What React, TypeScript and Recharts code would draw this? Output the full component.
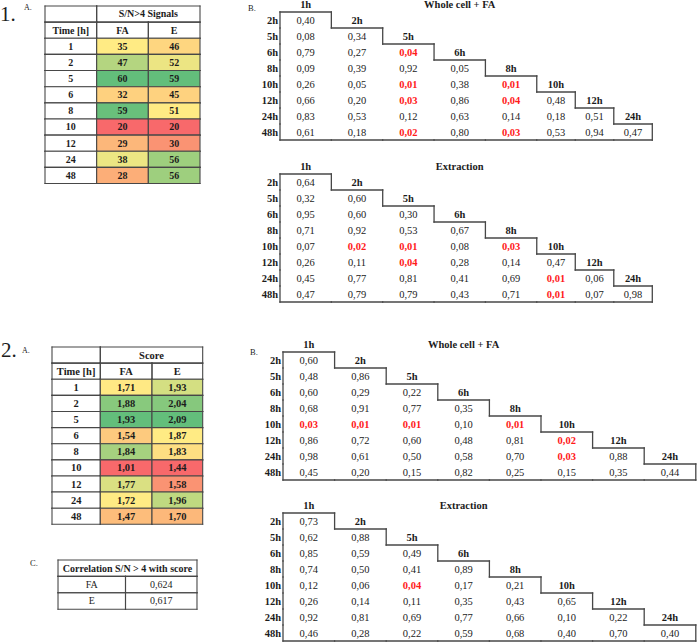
import React from 'react';
import { ScatterChart, Scatter, XAxis, YAxis } from 'recharts';

// ---------- DATA ----------
const timePoints = ['1', '2', '5', '6', '8', '10', '12', '24', '48'];
const signalsFA = [35, 47, 60, 32, 59, 20, 29, 38, 28];
const signalsE = [46, 52, 59, 45, 51, 20, 30, 56, 56];
const scoreFA = [1.71, 1.88, 1.93, 1.54, 1.84, 1.01, 1.77, 1.72, 1.47];
const scoreE = [1.93, 2.04, 2.09, 1.87, 1.83, 1.44, 1.58, 1.96, 1.70];
const corrLabels = ['FA', 'E'];
const corrValues = [0.624, 0.617];
const matrixTimes = ['1h', '2h', '5h', '6h', '8h', '10h', '12h', '24h', '48h'];

const p1WholeCell: number[][] = [
  [0.40],
  [0.08, 0.34],
  [0.79, 0.27, 0.04],
  [0.09, 0.39, 0.92, 0.05],
  [0.26, 0.05, 0.01, 0.38, 0.01],
  [0.66, 0.20, 0.03, 0.86, 0.04, 0.48],
  [0.83, 0.53, 0.12, 0.63, 0.14, 0.18, 0.51],
  [0.61, 0.18, 0.02, 0.80, 0.03, 0.53, 0.94, 0.47],
];
const p1Extraction: number[][] = [
  [0.64],
  [0.32, 0.60],
  [0.95, 0.60, 0.30],
  [0.71, 0.92, 0.53, 0.67],
  [0.07, 0.02, 0.01, 0.08, 0.03],
  [0.26, 0.11, 0.04, 0.28, 0.14, 0.47],
  [0.45, 0.77, 0.81, 0.41, 0.69, 0.01, 0.06],
  [0.47, 0.79, 0.79, 0.43, 0.71, 0.01, 0.07, 0.98],
];
const p2WholeCell: number[][] = [
  [0.60],
  [0.48, 0.86],
  [0.60, 0.29, 0.22],
  [0.68, 0.91, 0.77, 0.35],
  [0.03, 0.01, 0.01, 0.10, 0.01],
  [0.86, 0.72, 0.60, 0.48, 0.81, 0.02],
  [0.98, 0.61, 0.50, 0.58, 0.70, 0.03, 0.88],
  [0.45, 0.20, 0.15, 0.82, 0.25, 0.15, 0.35, 0.44],
];
const p2Extraction: number[][] = [
  [0.73],
  [0.62, 0.88],
  [0.85, 0.59, 0.49],
  [0.74, 0.50, 0.41, 0.89],
  [0.12, 0.06, 0.04, 0.17, 0.21],
  [0.26, 0.14, 0.11, 0.35, 0.43, 0.65],
  [0.92, 0.81, 0.69, 0.77, 0.66, 0.10, 0.22],
  [0.46, 0.28, 0.22, 0.59, 0.68, 0.40, 0.70, 0.40],
];

// ---------- STYLE HELPERS ----------
const FONT = 'Liberation Serif, Tinos, Times New Roman, DejaVu Serif, serif';
const INK = '#1c1c1c';
const LINE = '#474747';
const SIG = '#ff1a1a';

const comma = (v: number, d: number) => v.toFixed(d).replace('.', ',');

function median(arr: number[]) {
  const s = [...arr].sort((a, b) => a - b);
  const m = Math.floor(s.length / 2);
  return s.length % 2 ? s[m] : (s[m - 1] + s[m]) / 2;
}
function mix(a: number[], b: number[], t: number) {
  const c = a.map((v, i) => Math.round(v + (b[i] - v) * t));
  return `rgb(${c[0]},${c[1]},${c[2]})`;
}
function heat(values: number[]) {
  const red = [248, 105, 107], yel = [255, 235, 132], grn = [99, 190, 123];
  const mn = Math.min(...values), mx = Math.max(...values), md = median(values);
  return values.map((v) =>
    v <= md ? mix(red, yel, md === mn ? 1 : (v - mn) / (md - mn)) : mix(yel, grn, (v - md) / (mx - md))
  );
}

type Datum = {
  x: number; y: number; w: number; h: number;
  text?: string; fill?: string; color?: string; bold?: boolean;
  anchor?: 'start' | 'middle' | 'end'; edges?: string;
};

function makeShape(ux: number, uy: number, fontSize: number, strokeW: number) {
  return (props: any) => {
    const { cx, cy, payload } = props;
    if (cx == null || cy == null || !payload) return <g />;
    const d: Datum = payload;
    const w = d.w * ux, h = d.h * uy;
    const x0 = cx - w / 2, y0 = cy - h / 2;
    const e = d.edges || '';
    const ln = (x1: number, y1: number, x2: number, y2: number, k: string) => (
      <line key={k} x1={x1} y1={y1} x2={x2} y2={y2} stroke={LINE} strokeWidth={strokeW} strokeLinecap="square" />
    );
    const anchor = d.anchor || 'middle';
    const tx = anchor === 'end' ? x0 + w - 2 : anchor === 'start' ? x0 + 2 : cx;
    return (
      <g>
        {d.fill && <rect x={x0} y={y0} width={w} height={h} fill={d.fill} />}
        {e.includes('t') && ln(x0, y0, x0 + w, y0, 't')}
        {e.includes('b') && ln(x0, y0 + h, x0 + w, y0 + h, 'b')}
        {e.includes('l') && ln(x0, y0, x0, y0 + h, 'l')}
        {e.includes('r') && ln(x0 + w, y0, x0 + w, y0 + h, 'r')}
        {d.text && (
          <text x={tx} y={cy} dy="0.34em" textAnchor={anchor}
            style={{ fontFamily: FONT, fontSize, fontWeight: d.bold ? 700 : 400 }} fill={d.color || INK}>
            {d.text}
          </text>
        )}
      </g>
    );
  };
}

type GridProps = {
  left: number; top: number; unitsX: number; yMin: number; unitsY: number;
  ux: number; uy: number; data: Datum[]; fontSize: number; strokeW?: number; padLeft?: number;
};

function Grid({ left, top, unitsX, yMin, unitsY, ux, uy, data, fontSize, strokeW = 1, padLeft = 3 }: GridProps) {
  const margin = { top: 3, right: 3, bottom: 3, left: padLeft };
  const width = unitsX * ux + margin.left + margin.right;
  const height = unitsY * uy + margin.top + margin.bottom;
  return (
    <div style={{ position: 'absolute', left: left - margin.left, top: top - margin.top }}>
      <ScatterChart width={width} height={height} margin={margin}>
        <XAxis type="number" dataKey="x" domain={[0, unitsX]} hide />
        <YAxis type="number" dataKey="y" domain={[yMin, yMin + unitsY]} reversed hide />
        <Scatter data={data} isAnimationActive={false} shape={makeShape(ux, uy, fontSize, strokeW)} />
      </ScatterChart>
    </div>
  );
}

function colLayout(units: number[]) {
  const starts: number[] = [];
  let acc = 0;
  units.forEach((u) => { starts.push(acc); acc += u; });
  return { starts, centers: units.map((u, i) => starts[i] + u / 2), total: acc };
}

// heat table (panels 1A / 2A)
function HeatTable({ left, top, colUnits, ux, uy, title, fa, e, fmt, fontSize }: {
  left: number; top: number; colUnits: number[]; ux: number; uy: number; title: string;
  fa: number[]; e: number[]; fmt: (v: number) => string; fontSize: number;
}) {
  const L = colLayout(colUnits);
  const faFill = heat(fa), eFill = heat(e);
  const data: Datum[] = [];
  const box = 'tblr';
  data.push({ x: L.centers[0], y: 0.5, w: colUnits[0], h: 1, edges: box });
  data.push({ x: L.starts[1] + (colUnits[1] + colUnits[2]) / 2, y: 0.5, w: colUnits[1] + colUnits[2], h: 1, text: title, bold: true, edges: box });
  ['Time [h]', 'FA', 'E'].forEach((t, c) => data.push({ x: L.centers[c], y: 1.5, w: colUnits[c], h: 1, text: t, bold: true, edges: box }));
  timePoints.forEach((t, r) => {
    data.push({ x: L.centers[0], y: r + 2.5, w: colUnits[0], h: 1, text: t, bold: true, edges: box, fill: '#fff' });
    data.push({ x: L.centers[1], y: r + 2.5, w: colUnits[1], h: 1, text: fmt(fa[r]), bold: true, edges: box, fill: faFill[r] });
    data.push({ x: L.centers[2], y: r + 2.5, w: colUnits[2], h: 1, text: fmt(e[r]), bold: true, edges: box, fill: eFill[r] });
  });
  return <Grid left={left} top={top} unitsX={L.total} yMin={0} unitsY={timePoints.length + 2} ux={ux} uy={uy} data={data} fontSize={fontSize} strokeW={1.1} />;
}

// triangular p-value matrix (panels 1B / 2B)
function Matrix({ left, top, colUnits, ux, title, values }: {
  left: number; top: number; colUnits: number[]; ux: number; title: string; values: number[][];
}) {
  const L = colLayout(colUnits);
  const n = values.length;
  const data: Datum[] = [];
  for (let j = 0; j < n; j++) {
    data.push({ x: L.centers[j], y: j - 0.5, w: colUnits[j], h: 1, text: matrixTimes[j], bold: true });
  }
  data.push({ x: L.centers[3], y: -0.5, w: colUnits[3], h: 1, text: title, bold: true });
  values.forEach((row, i) => {
    data.push({ x: 0, y: i + 0.5, w: 0, h: 1, text: matrixTimes[i + 1], bold: true, anchor: 'end' });
    row.forEach((v, j) => {
      let edges = '';
      if (j === 0) edges += 'l';
      if (i === n - 1) edges += 'b';
      if (i === j) edges += 'tr';
      const sig = v < 0.05;
      data.push({ x: L.centers[j], y: i + 0.5, w: colUnits[j], h: 1, text: comma(v, 2), bold: sig, color: sig ? SIG : '#222', edges });
    });
  });
  return <Grid left={left} top={top - 16} unitsX={L.total} yMin={-1} unitsY={n + 1} ux={ux} uy={16} data={data} fontSize={10.5} strokeW={1.3} padLeft={36} />;
}

function CorrTable() {
  const colUnits = [67.5, 71.5];
  const L = colLayout(colUnits);
  const data: Datum[] = [];
  data.push({ x: L.total / 2, y: 0.5, w: L.total, h: 1, text: 'Correlation S/N > 4 with score', bold: true, edges: 'tblr' });
  corrLabels.forEach((lab, r) => {
    data.push({ x: L.centers[0], y: r + 1.5, w: colUnits[0], h: 1, text: lab, edges: 'tblr' });
    data.push({ x: L.centers[1], y: r + 1.5, w: colUnits[1], h: 1, text: comma(corrValues[r], 3), edges: 'tblr' });
  });
  return <Grid left={58.3} top={560} unitsX={L.total} yMin={0} unitsY={3} ux={1} uy={16.4} data={data} fontSize={10} strokeW={1.1} />;
}

const wideNarrow = [4, 4, 4, 4, 4, 3, 3, 3];
const even = [1, 1, 1, 1, 1, 1, 1, 1];

export default function App() {
  const lab = (x: number, y: number, t: string, size: number) => (
    <text x={x} y={y} style={{ fontFamily: FONT, fontSize: size }} fill={INK}>{t}</text>
  );
  return (
    <div style={{ position: 'absolute', left: 0, top: 0, width: 697, height: 643, overflow: 'hidden', background: '#fff', fontFamily: FONT }}>
      <svg width={697} height={643} style={{ position: 'absolute', left: 0, top: 0 }}>
        {lab(0, 21, '1.', 21)}
        {lab(24, 10, 'A.', 8)}
        {lab(248, 11, 'B.', 8.5)}
        {lab(1, 357, '2.', 21)}
        {lab(22, 353, 'A.', 8)}
        {lab(250, 355, 'B.', 8.5)}
        {lab(30, 566, 'C.', 8.5)}
      </svg>
      <HeatTable left={45} top={6} colUnits={[1, 1, 1]} ux={51.67} uy={16.14} title="S/N>4 Signals"
        fa={signalsFA} e={signalsE} fmt={(v) => String(v)} fontSize={10} />
      <HeatTable left={51.7} top={346.7} colUnits={[48.3, 51.7, 50.7]} ux={1} uy={16.12} title="Score"
        fa={scoreFA} e={scoreE} fmt={(v) => comma(v, 2)} fontSize={10.5} />
      <CorrTable />
      <Matrix left={280} top={12} colUnits={wideNarrow} ux={372.3 / 29} title="Whole cell + FA" values={p1WholeCell} />
      <Matrix left={280} top={174} colUnits={wideNarrow} ux={372.3 / 29} title="Extraction" values={p1Extraction} />
      <Matrix left={283.3} top={351.7} colUnits={even} ux={51.6} title="Whole cell + FA" values={p2WholeCell} />
      <Matrix left={283.3} top={512.7} colUnits={even} ux={51.6} title="Extraction" values={p2Extraction} />
    </div>
  );
}
